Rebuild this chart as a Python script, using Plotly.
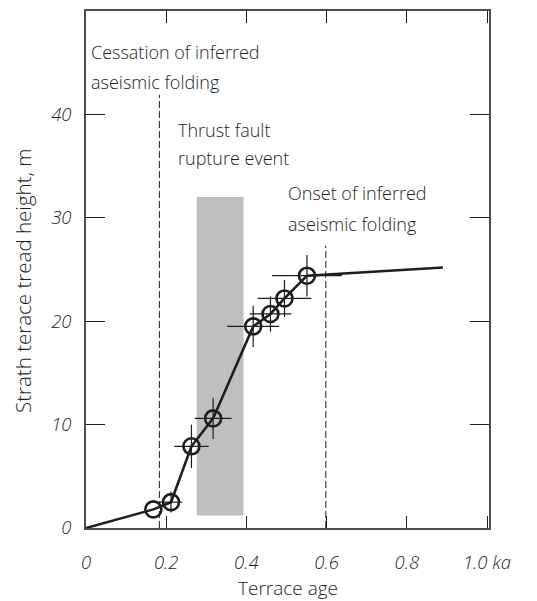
import plotly.graph_objects as go

# ---- data ----
terrace_age = [0.168, 0.212, 0.263, 0.317, 0.417, 0.460, 0.495, 0.551]      # ka
tread_height = [1.8, 2.5, 7.9, 10.6, 19.5, 20.7, 22.2, 24.4]                # m
age_error = [0.0, 0.028, 0.043, 0.046, 0.065, 0.052, 0.067, 0.087]
height_error = [0.0, 1.0, 2.1, 2.0, 2.0, 1.7, 1.8, 2.0]

profile_age = [0.0] + terrace_age + [0.89]
profile_height = [0.0] + tread_height + [25.2]

rupture_window_age = [0.276, 0.393]
rupture_window_height = [1.2, 32.0]
cessation_age = 0.183
cessation_top = 41.9
onset_age = 0.598
onset_top = 27.3

x_tick_vals = [0, 0.2, 0.4, 0.6, 0.8, 1.0]
x_tick_text = ["0", "0.2", "0.4", "0.6", "0.8", "1.0 ka"]
y_tick_vals = [0, 10, 20, 30, 40, 50]

FONT = "Open Sans"
INK = "#1e1e1e"

fig = go.Figure()

# rupture window (grey band)
fig.add_shape(type="rect", x0=rupture_window_age[0], x1=rupture_window_age[1],
              y0=rupture_window_height[0], y1=rupture_window_height[1],
              fillcolor="#bdbfc1", line_width=0, layer="below")
# dashed guide lines
fig.add_shape(type="line", x0=cessation_age, x1=cessation_age, y0=0, y1=cessation_top,
              line=dict(color=INK, width=1, dash="7px,3px"))
fig.add_shape(type="line", x0=onset_age, x1=onset_age, y0=0, y1=onset_top,
              line=dict(color=INK, width=1, dash="7px,3px"))

# profile line
fig.add_trace(go.Scatter(x=profile_age, y=profile_height, mode="lines",
                         line=dict(color=INK, width=2.6), hoverinfo="skip",
                         showlegend=False))
# points with error crosses
fig.add_trace(go.Scatter(
    x=terrace_age, y=tread_height, mode="markers",
    marker=dict(symbol="circle-open", size=16, color=INK, line=dict(width=2.6, color=INK)),
    error_x=dict(type="data", array=age_error, width=0, thickness=1.2, color=INK),
    error_y=dict(type="data", array=height_error, width=0, thickness=1.2, color=INK),
    showlegend=False))

labels = [
    ("Cessation of inferred", 0.0085, 46.0),
    ("aseismic folding", 0.0085, 43.1),
    ("Thrust fault", 0.2235, 38.5),
    ("rupture event", 0.2235, 35.8),
    ("Onset of inferred", 0.4975, 32.4),
    ("aseismic folding", 0.4975, 29.4),
]
for txt, ax, ay in labels:
    fig.add_annotation(x=ax, y=ay, text=txt, showarrow=False, xanchor="left",
                       yanchor="middle",
                       font=dict(family=FONT, size=18, color=INK, weight=300))

# axis titles placed as annotations (page body adds an 8 px offset)
fig.add_annotation(xref="paper", yref="paper", x=-0.156, y=0.478,
                   text="Strath terace tread height, m", textangle=-90, showarrow=False,
                   xanchor="center", yanchor="middle",
                   font=dict(family=FONT, size=20.5, color=INK, weight=300))
fig.add_annotation(xref="paper", yref="paper", x=0.5, y=-0.1156,
                   text="Terrace age", showarrow=False,
                   xanchor="center", yanchor="middle",
                   font=dict(family=FONT, size=19, color=INK, weight=300))

axis_common = dict(showline=True, linecolor="#4d4d4d", linewidth=1.6, mirror="ticks",
                   ticks="inside", tickcolor=INK, tickwidth=1.3, showgrid=False,
                   zeroline=False,
                   tickfont=dict(family=FONT, size=18.5, color=INK, style="italic", weight=300))

fig.update_xaxes(range=[0, 1.005], tickvals=x_tick_vals, ticktext=x_tick_text,
                 ticklen=12, ticklabelstandoff=17, **axis_common)
fig.update_yaxes(range=[0, 50], tickvals=y_tick_vals, ticklen=19, ticklabelstandoff=9,
                 **axis_common)

fig.update_layout(width=537, height=601, margin=dict(l=78, r=56, t=1, b=81),
                  plot_bgcolor="white", paper_bgcolor="white",
                  font=dict(family=FONT, color=INK))

fig.write_html("out.html")
